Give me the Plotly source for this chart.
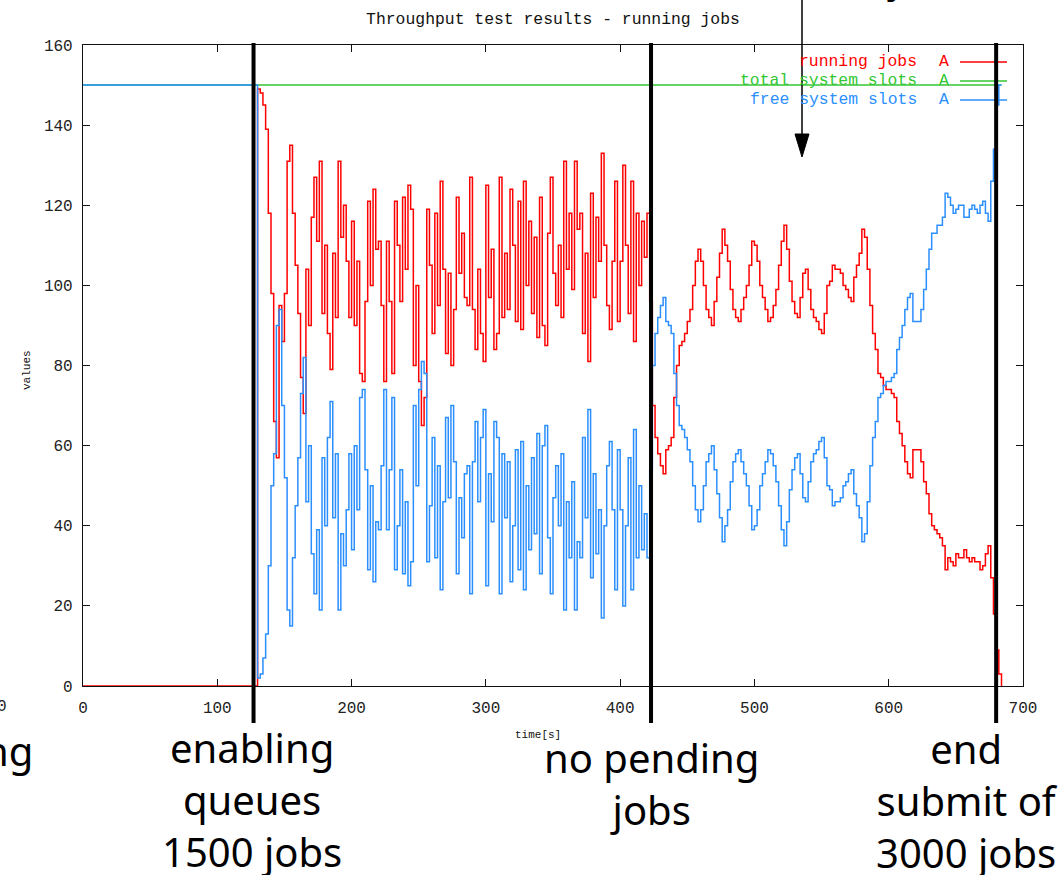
import plotly.graph_objects as go

# ---------------------------------------------------------------- data
series_names = ["running jobs", "total system slots", "free system slots"]
series_colors = ["#ff0000", "#33c633", "#2b8fff"]

total_slot_count = 150

# idle phase: nothing running until the queues are enabled
idle_times = [0, 129]
idle_running = [0, 0]
idle_free = [150, 150]

# samples every 2 s after the queues are enabled (t = 130 ... 684 s)
sample_times = list(range(130, 686, 2))

running_jobs = [
    149, 148, 145, 139, 118, 98, 66, 57, 95, 86,
    98, 131, 135, 118, 105, 93, 77, 68, 104, 90,
    117, 127, 111, 131, 93, 110, 88, 79, 108, 92,
    131, 112, 120, 106, 92, 116, 90, 106, 78, 76,
    96, 121, 100, 124, 109, 111, 95, 76, 111, 96,
    78, 121, 110, 96, 122, 104, 125, 119, 80, 100,
    76, 65, 72, 119, 105, 88, 118, 95, 126, 104,
    83, 103, 80, 94, 122, 103, 113, 97, 95, 127,
    94, 84, 104, 88, 81, 125, 97, 109, 84, 88,
    127, 92, 108, 94, 124, 110, 91, 121, 89, 126,
    100, 116, 93, 112, 87, 122, 90, 85, 113, 127,
    103, 95, 110, 92, 131, 104, 118, 99, 131, 114,
    118, 88, 108, 81, 123, 97, 117, 106, 133, 110,
    95, 89, 106, 126, 91, 106, 130, 110, 93, 126,
    86, 118, 100, 116, 107, 118, 96, 70, 62, 58,
    55, 53, 59, 60, 62, 72, 80, 85, 86, 88,
    91, 94, 100, 106, 109, 106, 100, 94, 92, 90,
    96, 102, 108, 114, 110, 106, 99, 94, 92, 91,
    94, 97, 100, 105, 111, 110, 106, 100, 97, 94,
    91, 92, 95, 99, 105, 111, 115, 109, 101, 96,
    93, 92, 97, 103, 104, 99, 94, 92, 91, 89,
    88, 93, 100, 101, 105, 104, 104, 103, 100, 99,
    97, 96, 102, 105, 108, 114, 112, 104, 95, 88,
    84, 78, 77, 75, 74, 74, 73, 72, 66, 63,
    60, 56, 53, 52, 59, 59, 59, 56, 51, 48,
    43, 40, 39, 38, 37, 35, 29, 32, 31, 30,
    33, 32, 32, 34, 32, 31, 32, 31, 31, 29,
    30, 33, 35, 27, 18, 9, 3, 0,
]

free_slots = [
    2, 3, 7, 13, 30, 50, 58, 90, 94, 70,
    52, 19, 15, 32, 45, 57, 73, 82, 46, 60,
    33, 23, 39, 19, 57, 40, 62, 71, 42, 58,
    19, 38, 30, 44, 58, 34, 60, 44, 72, 74,
    54, 29, 50, 26, 41, 39, 55, 74, 39, 54,
    72, 29, 40, 54, 28, 46, 25, 31, 70, 50,
    74, 81, 78, 31, 45, 62, 32, 55, 24, 46,
    67, 47, 70, 56, 28, 47, 37, 53, 55, 23,
    56, 66, 46, 62, 69, 25, 53, 41, 66, 62,
    23, 58, 42, 56, 26, 40, 59, 29, 61, 24,
    50, 34, 57, 38, 63, 28, 60, 65, 37, 23,
    47, 55, 40, 58, 19, 46, 32, 51, 19, 36,
    32, 62, 42, 69, 27, 53, 33, 44, 17, 40,
    55, 61, 44, 24, 59, 44, 20, 40, 57, 24,
    64, 32, 50, 34, 43, 32, 54, 80, 88, 92,
    95, 97, 91, 90, 88, 78, 70, 65, 64, 62,
    59, 56, 50, 44, 41, 44, 50, 56, 58, 60,
    54, 48, 42, 36, 40, 44, 51, 56, 58, 59,
    56, 53, 50, 45, 39, 40, 44, 50, 53, 56,
    59, 58, 55, 51, 45, 39, 35, 41, 49, 54,
    57, 58, 53, 47, 46, 51, 56, 58, 59, 61,
    62, 57, 50, 49, 45, 46, 46, 47, 50, 51,
    53, 54, 48, 45, 42, 36, 38, 46, 55, 62,
    66, 72, 73, 75, 76, 76, 77, 78, 84, 87,
    90, 94, 97, 98, 91, 91, 91, 94, 99, 104,
    109, 113, 113, 115, 115, 117, 123, 122, 120, 118,
    119, 120, 120, 117, 117, 119, 120, 119, 118, 120,
    121, 118, 116, 126, 134, 145, 150, 150,
]

# phase markers (time in s) and their captions
event_times = [127, 423, 680]
event_captions = ["enabling<br>queues<br>1500 jobs", "no pending<br>jobs", "end<br>submit of<br>3000 jobs"]
caption_centers = [126, 423, 658]

x_ticks = [0, 100, 200, 300, 400, 500, 600, 700]
y_ticks = [0, 20, 40, 60, 80, 100, 120, 140, 160]
x_range = [0, 700]
y_range = [0, 160]

# ---------------------------------------------------------------- layout helpers
W, H = 1064, 875
PL, PR, PT, PB = 83, 1023, 45, 686   # plot box in page pixels


def fx(px):
    return (px - PL) / (PR - PL)


def fy(py):
    return (PB - py) / (PB - PT)


def time_to_paper(t):
    return (t - x_range[0]) / (x_range[1] - x_range[0])


MONO = "Liberation Mono"
BIG = "Noto Sans"

times_all = idle_times + sample_times
running_all = idle_running + running_jobs
free_all = idle_free + free_slots
total_all = [total_slot_count] * len(times_all)

fig = go.Figure()
for name, ys, color in zip(series_names, [running_all, total_all, free_all], series_colors):
    fig.add_trace(go.Scatter(
        x=times_all, y=ys, mode="lines", name=name,
        line=dict(color=color, width=1.5, shape="hv"), hoverinfo="skip",
    ))

axis_common = dict(
    showgrid=False, zeroline=False, showline=True, linecolor="#111", linewidth=1.2,
    mirror="ticks", ticks="inside", ticklen=7, tickwidth=1.2, tickcolor="#111",
    tickfont=dict(family=MONO, size=16, color="#222"),
)

fig.update_layout(
    width=W, height=H,
    margin=dict(l=PL, r=W - PR, t=PT, b=H - PB),
    paper_bgcolor="white", plot_bgcolor="white",
    showlegend=False,
    title=dict(
        text="Throughput test results - running jobs",
        x=553 / W, xanchor="center", y=1 - 18 / H, yanchor="middle",
        font=dict(family=MONO, size=16.4, color="#111"),
    ),
    xaxis=dict(range=x_range, tickvals=x_ticks, ticklabelstandoff=7, **axis_common),
    yaxis=dict(range=y_range, tickvals=y_ticks, ticklabelstandoff=6, **axis_common),
)

annotations = []
shapes = []

# axis titles
annotations.append(dict(text="time[s]", x=fx(538), y=fy(735), xref="paper", yref="paper",
                        showarrow=False, xanchor="center", yanchor="middle",
                        font=dict(family=MONO, size=11, color="#111")))
annotations.append(dict(text="values", x=fx(27), y=fy(370), xref="paper", yref="paper",
                        showarrow=False, textangle=-90, xanchor="center", yanchor="middle",
                        font=dict(family=MONO, size=11, color="#111")))

# key in the upper right corner
key_rows = [62, 81, 100]
for name, color, row in zip(series_names, series_colors, key_rows):
    annotations.append(dict(text=name, x=fx(919), y=fy(row), xref="paper", yref="paper",
                            showarrow=False, xanchor="right", yanchor="middle",
                            font=dict(family=MONO, size=16.4, color=color)))
    annotations.append(dict(text="A", x=fx(944), y=fy(row), xref="paper", yref="paper",
                            showarrow=False, xanchor="center", yanchor="middle",
                            font=dict(family=MONO, size=16.4, color=color)))
    shapes.append(dict(type="line", xref="paper", yref="paper",
                       x0=fx(960), x1=fx(1007), y0=fy(row), y1=fy(row),
                       line=dict(color=color, width=1.5)))

# phase markers
for t in event_times:
    shapes.append(dict(type="line", xref="paper", yref="paper", layer="above",
                       x0=time_to_paper(t), x1=time_to_paper(t), y0=fy(723), y1=fy(43),
                       line=dict(color="black", width=4)))

caption_tops = [718, 728, 719]
for text, tc, top in zip(event_captions, caption_centers, caption_tops):
    annotations.append(dict(text=text, x=tc, y=fy(top), xref="x", yref="paper",
                            showarrow=False, xanchor="center", yanchor="top", align="center",
                            font=dict(family=BIG, size=40, color="black")))

# pieces of neighbouring labels at the page edges
annotations.append(dict(text="ng", x=fx(35), y=fy(721), xref="paper", yref="paper",
                        showarrow=False, xanchor="right", yanchor="top",
                        font=dict(family=BIG, size=40, color="black")))
annotations.append(dict(text="0", x=fx(2), y=fy(707), xref="paper", yref="paper",
                        showarrow=False, xanchor="center", yanchor="middle",
                        font=dict(family=MONO, size=16, color="#222")))
annotations.append(dict(text="y", x=fx(897), y=fy(-23), xref="paper", yref="paper",
                        showarrow=False, xanchor="center", yanchor="middle",
                        font=dict(family=BIG, size=40, color="black")))

# pointer arrow from above
shapes.append(dict(type="line", xref="paper", yref="paper",
                   x0=fx(802), x1=fx(802), y0=fy(0), y1=fy(140),
                   line=dict(color="black", width=1.5)))
shapes.append(dict(type="path", xref="paper", yref="paper",
                   path=f"M {fx(795)} {fy(134)} L {fx(809)} {fy(134)} L {fx(802)} {fy(157)} Z",
                   fillcolor="black", line=dict(color="black", width=1)))

fig.update_layout(annotations=annotations, shapes=shapes)
fig.write_html("out.html")
